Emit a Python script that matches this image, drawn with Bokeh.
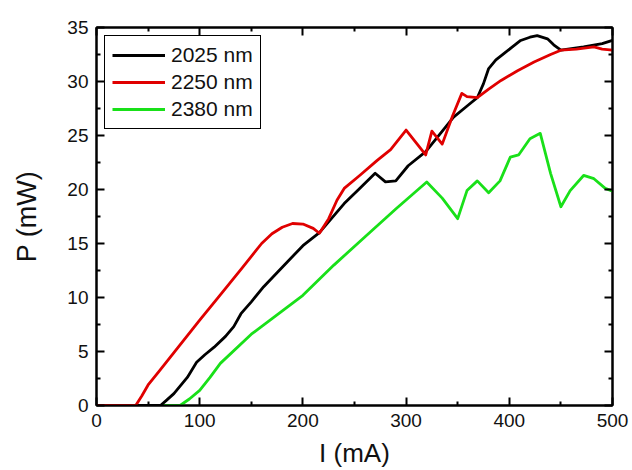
from bokeh.plotting import figure
from bokeh.models import Range1d, FixedTicker, LinearAxis, Legend, LegendItem
from bokeh.embed import file_html
from bokeh.resources import INLINE

# ---- data ----
series_names = ["2025 nm", "2250 nm", "2380 nm"]

i_2025 = [0, 62, 68, 75, 88, 97, 105, 114, 125, 133, 140, 150, 162, 180, 200, 216, 240, 255, 270,
          280, 290, 302, 319, 330, 346, 360, 369, 375, 380, 387, 395, 403, 411, 420, 427, 437,
          443, 450, 472, 490, 500]
p_2025 = [0, 0, 0.5, 1.1, 2.6, 4.0, 4.7, 5.4, 6.4, 7.3, 8.5, 9.6, 11.0, 12.8, 14.8, 16.0, 18.7, 20.1, 21.5,
          20.7, 20.8, 22.2, 23.5, 24.8, 26.7, 27.8, 28.5, 29.8, 31.2, 32.0, 32.6, 33.2, 33.8, 34.1, 34.25, 33.95,
          33.4, 32.9, 33.2, 33.5, 33.8]

i_2250 = [0, 38, 44, 50, 60, 80, 100, 117, 140, 160, 170, 180, 190, 200, 210, 216, 225, 233, 240, 255,
          272, 285, 300, 310, 319, 325, 335, 345, 354, 359, 369, 380, 392, 408, 424, 440, 450, 465,
          482, 490, 500]
p_2250 = [0, 0, 0.9, 1.9, 3.1, 5.5, 7.9, 9.9, 12.6, 15.0, 15.9, 16.5, 16.85, 16.8, 16.4, 15.95, 17.3, 19.0, 20.1, 21.3,
          22.7, 23.7, 25.5, 24.3, 23.2, 25.4, 24.2, 26.8, 28.9, 28.6, 28.5, 29.3, 30.1, 31.0, 31.8, 32.5, 32.9, 33.0,
          33.2, 33.0, 32.9]

i_2380 = [0, 81, 90, 100, 110, 120, 150, 200, 230, 260, 290, 320, 335, 350, 359, 369, 380, 391, 401,
          409, 420, 430, 440, 450, 459, 472, 482, 493, 500]
p_2380 = [0, 0, 0.6, 1.4, 2.6, 3.9, 6.6, 10.2, 13.0, 15.6, 18.2, 20.7, 19.2, 17.3, 19.9, 20.8, 19.7, 20.8, 23.0,
          23.2, 24.7, 25.2, 21.5, 18.4, 19.9, 21.3, 21.0, 20.1, 19.85]

x_ticks = [0, 100, 200, 300, 400, 500]
x_minor = [50, 150, 250, 350, 450]
y_ticks = [0, 5, 10, 15, 20, 25, 30, 35]
y_minor = [2.5, 7.5, 12.5, 17.5, 22.5, 27.5, 32.5]
x_title = "I (mA)"
y_title = "P (mW)"

FONT = "Liberation Sans"

p = figure(width=632, height=470, x_range=Range1d(0, 500), y_range=Range1d(0, 35),
           output_backend="svg", toolbar_location=None,
           min_border_left=96, min_border_right=20, min_border_top=27, min_border_bottom=65)
p.grid.visible = False
p.outline_line_color = "black"
p.outline_line_width = 2
p.background_fill_color = "white"
p.border_fill_color = "white"

bottom = p.below[0]
left = p.left[0]
bottom.ticker = FixedTicker(ticks=x_ticks, minor_ticks=x_minor)
left.ticker = FixedTicker(ticks=y_ticks, minor_ticks=y_minor)

top = LinearAxis(ticker=FixedTicker(ticks=x_ticks, minor_ticks=x_minor),
                 major_label_overrides={t: "" for t in x_ticks})
right = LinearAxis(ticker=FixedTicker(ticks=y_ticks, minor_ticks=y_minor),
                   major_label_overrides={t: "" for t in y_ticks})
p.add_layout(top, "above")
p.add_layout(right, "right")

for ax in [bottom, left, top, right]:
    ax.axis_line_width = 2
    ax.axis_line_color = "black"
    ax.major_tick_in = 8
    ax.major_tick_out = 0
    ax.minor_tick_in = 4
    ax.minor_tick_out = 0
    ax.major_tick_line_width = 2
    ax.minor_tick_line_width = 2
    ax.major_tick_line_color = "black"
    ax.minor_tick_line_color = "black"
    ax.major_label_text_font = FONT
    ax.major_label_text_font_size = "19px"
    ax.major_label_text_color = "#111111"
    ax.major_label_standoff = 8

for ax in [top, right]:
    ax.major_label_standoff = 0

bottom.axis_label = x_title
bottom.axis_label_text_font = FONT
bottom.axis_label_text_font_size = "26px"
bottom.axis_label_text_font_style = "normal"
bottom.axis_label_text_color = "#111111"
bottom.axis_label_standoff = 8

left.axis_label = y_title
left.axis_label_text_font = FONT
left.axis_label_text_font_size = "27px"
left.axis_label_text_font_style = "normal"
left.axis_label_text_color = "#111111"
left.axis_label_standoff = 22

r_g = p.line(i_2380, p_2380, line_color="#19e019", line_width=2.8, line_join="round")
r_k = p.line(i_2025, p_2025, line_color="black", line_width=2.8, line_join="round")
r_r = p.line(i_2250, p_2250, line_color="#e00000", line_width=2.8, line_join="round")

legend = Legend(items=[LegendItem(label=series_names[0], renderers=[r_k]),
                       LegendItem(label=series_names[1], renderers=[r_r]),
                       LegendItem(label=series_names[2], renderers=[r_g])],
                location="top_left", margin=8, padding=7, spacing=3,
                glyph_width=53, glyph_height=24, label_height=24, label_standoff=6,
                label_text_font=FONT, label_text_font_size="21px", label_text_color="#111111",
                border_line_color="black", border_line_width=1, border_line_alpha=1,
                background_fill_color="white", background_fill_alpha=1)
p.add_layout(legend)

open("out.html", "w").write(file_html(p, INLINE))
